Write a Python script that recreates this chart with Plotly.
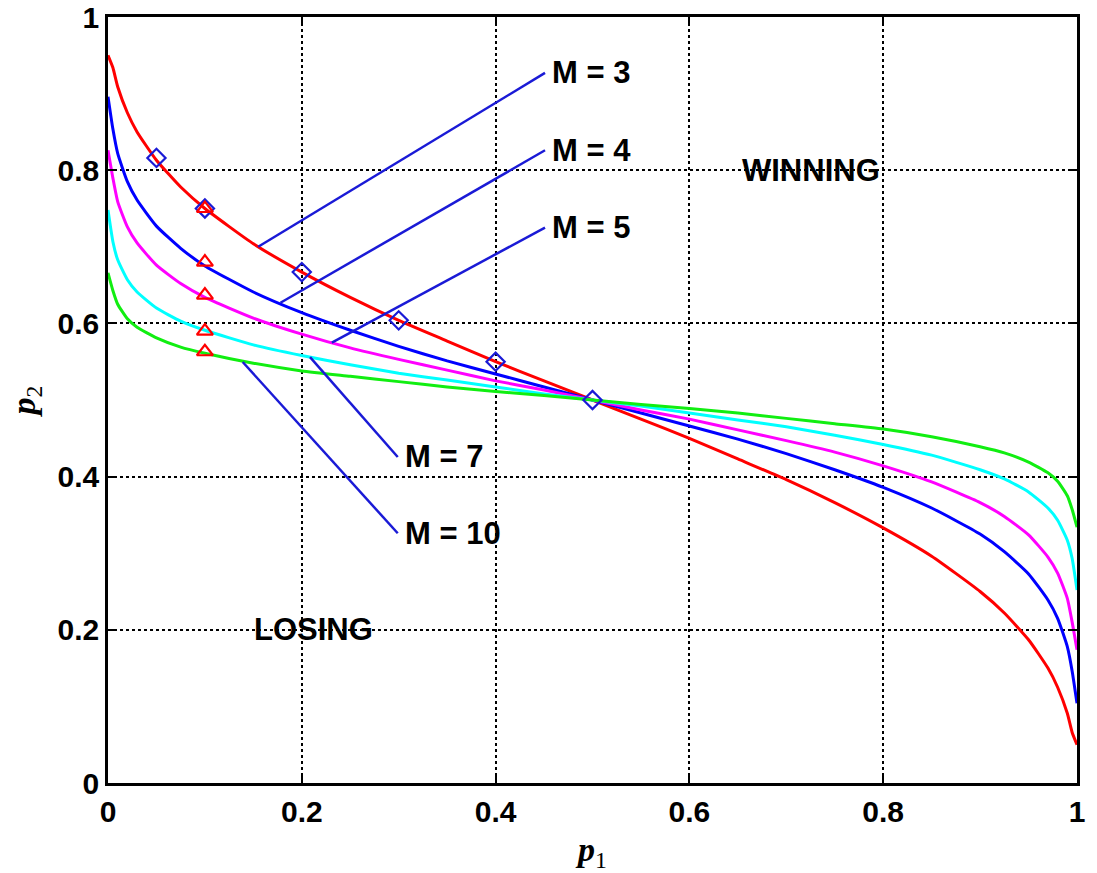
import plotly.graph_objects as go

# ---- data ----
p1 = [0, 0.005, 0.01, 0.02, 0.03, 0.05, 0.075, 0.1, 0.15, 0.2, 0.25, 0.3, 0.35, 0.4, 0.45, 0.5,
      0.55, 0.6, 0.65, 0.7, 0.75, 0.8, 0.85, 0.9, 0.925, 0.95, 0.97, 0.98, 0.99, 0.995, 1.0]

p2_M3 = [0.95, 0.934, 0.909, 0.875, 0.850, 0.813, 0.778, 0.750, 0.704, 0.667, 0.634, 0.604, 0.577, 0.550, 0.525, 0.500,
         0.475, 0.450, 0.423, 0.396, 0.366, 0.333, 0.296, 0.250, 0.222, 0.187, 0.150, 0.125, 0.091, 0.066, 0.05]
p2_M4 = [0.896, 0.854, 0.822, 0.785, 0.761, 0.727, 0.698, 0.675, 0.641, 0.614, 0.591, 0.570, 0.551, 0.534, 0.517, 0.500,
         0.483, 0.466, 0.449, 0.430, 0.409, 0.386, 0.359, 0.325, 0.302, 0.273, 0.239, 0.215, 0.178, 0.146, 0.104]
p2_M5 = [0.826, 0.790, 0.759, 0.726, 0.705, 0.676, 0.652, 0.634, 0.607, 0.586, 0.568, 0.553, 0.539, 0.525, 0.513, 0.500,
         0.487, 0.475, 0.461, 0.447, 0.432, 0.414, 0.393, 0.366, 0.348, 0.324, 0.295, 0.274, 0.241, 0.210, 0.174]
p2_M7 = [0.748, 0.707, 0.683, 0.657, 0.641, 0.620, 0.603, 0.591, 0.572, 0.558, 0.546, 0.535, 0.526, 0.517, 0.508, 0.500,
         0.492, 0.483, 0.474, 0.465, 0.454, 0.442, 0.428, 0.409, 0.397, 0.380, 0.359, 0.343, 0.317, 0.293, 0.252]
p2_M10 = [0.666, 0.643, 0.625, 0.606, 0.595, 0.581, 0.569, 0.561, 0.548, 0.538, 0.531, 0.524, 0.517, 0.511, 0.506, 0.500,
          0.494, 0.489, 0.483, 0.476, 0.469, 0.462, 0.452, 0.439, 0.431, 0.419, 0.405, 0.394, 0.375, 0.357, 0.334]

curve_names = ["M = 3", "M = 4", "M = 5", "M = 7", "M = 10"]
curve_colors = ["#ff0000", "#0000ff", "#ff00ff", "#00ffff", "#11ee11"]

diamond_x = [0.05, 0.1, 0.2, 0.3, 0.4, 0.5]
diamond_y = [0.816, 0.75, 0.667, 0.604, 0.55, 0.5]
triangle_x = [0.1, 0.1, 0.1, 0.1, 0.1]
triangle_y = [0.75, 0.68, 0.637, 0.59, 0.563]

# label leader lines: (start x, start y) on curve -> (end x, end y) near text
label_texts = ["M = 3", "M = 4", "M = 5", "M = 7", "M = 10"]
leader_x0 = [0.155, 0.178, 0.231, 0.2085, 0.139]
leader_y0 = [0.700, 0.627, 0.575, 0.556, 0.5496]
leader_x1 = [0.451, 0.451, 0.451, 0.299, 0.299]
leader_y1 = [0.927, 0.826, 0.725, 0.4256, 0.326]

region_texts = ["WINNING", "LOSING"]
region_x = [0.726, 0.212]
region_y = [0.80, 0.20]

ticks = [0, 0.2, 0.4, 0.6, 0.8, 1]
tick_text = ["0", "0.2", "0.4", "0.6", "0.8", "1"]

# ---- figure ----
fig = go.Figure()

for ys, name, col in zip([p2_M3, p2_M4, p2_M5, p2_M7, p2_M10], curve_names, curve_colors):
    fig.add_trace(go.Scatter(x=p1, y=ys, mode="lines", name=name,
                             line=dict(color=col, width=3, shape="spline", smoothing=0.5),
                             showlegend=False, hoverinfo="skip"))

for x0, y0, x1, y1 in zip(leader_x0, leader_y0, leader_x1, leader_y1):
    fig.add_trace(go.Scatter(x=[x0, x1], y=[y0, y1], mode="lines",
                             line=dict(color="#1a1ad6", width=2.5),
                             showlegend=False, hoverinfo="skip"))

fig.add_trace(go.Scatter(x=diamond_x, y=diamond_y, mode="markers",
                         marker=dict(symbol="diamond-open", size=14, color="#1a1ad6",
                                     line=dict(width=2.2, color="#1a1ad6")),
                         showlegend=False, hoverinfo="skip"))
fig.add_trace(go.Scatter(x=triangle_x, y=triangle_y, mode="markers",
                         marker=dict(symbol="triangle-up-open", size=14, color="#ff0000",
                                     line=dict(width=2.2, color="#ff0000")),
                         showlegend=False, hoverinfo="skip"))

font_lbl = dict(family="Liberation Sans, Arial, sans-serif", size=31, color="black", weight="bold")
annotations = []
for t, x1, y1 in zip(label_texts, leader_x1, leader_y1):
    annotations.append(dict(x=x1, y=y1, text=t, showarrow=False,
                            xanchor="left", yanchor="middle", xshift=5, font=font_lbl))
for t, x, y in zip(region_texts, region_x, region_y):
    annotations.append(dict(x=x, y=y, text=t, showarrow=False,
                            xanchor="center", yanchor="middle", font=font_lbl))

axis_common = dict(range=[0, 1], tickvals=ticks, ticktext=tick_text, automargin=False,
                   showgrid=True, gridcolor="black", gridwidth=1.5, griddash="dot",
                   showline=True, linecolor="black", linewidth=2.5, mirror="ticks",
                   ticks="inside", ticklen=8, tickwidth=1.5, tickcolor="black",
                   zeroline=False,
                   tickfont=dict(family="Liberation Sans, Arial, sans-serif", size=30,
                                 color="black", weight="bold"))

fig.update_layout(
    width=1097, height=873,
    margin=dict(l=108, r=20, t=17, b=90),
    paper_bgcolor="white", plot_bgcolor="white",
    annotations=annotations,
    xaxis=dict(**axis_common,
               title=dict(text="<b><i>p</i></b><sub>1</sub>", standoff=14,
                          font=dict(family="Liberation Serif, Times New Roman, serif", size=34, color="black"))),
    yaxis=dict(**axis_common,
               title=dict(text="<b><i>p</i></b><sub>2</sub>", standoff=12,
                          font=dict(family="Liberation Serif, Times New Roman, serif", size=34, color="black"))),
)

fig.write_html("out.html")
